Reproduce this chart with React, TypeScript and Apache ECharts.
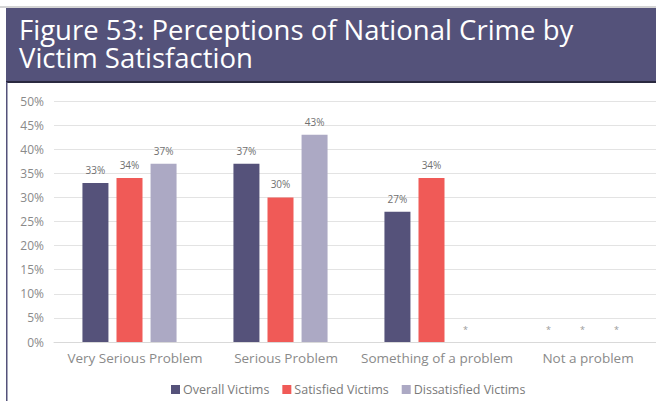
import React, { useEffect, useRef } from "react";
import * as echarts from "echarts";

const titleLines = ["Figure 53: Perceptions of National Crime by", "Victim Satisfaction"];
const categories = ["Very Serious Problem", "Serious Problem", "Something of a problem", "Not a problem"];
const seriesNames = ["Overall Victims", "Satisfied Victims", "Dissatisfied Victims"];
const overallVictims: (number | null)[] = [33, 37, 27, null];
const satisfiedVictims: (number | null)[] = [34, 30, 34, null];
const dissatisfiedVictims: (number | null)[] = [37, 43, null, null];
const seriesColors = ["#55527a", "#f05a57", "#aca9c4"];
const yTicks = { min: 0, max: 50, interval: 5 };

const FONT = "'Open Sans', 'Noto Sans', sans-serif";

function toData(values: (number | null)[]) {
  return values.map((v) =>
    v === null
      ? { value: 0, label: { formatter: "*", color: "#999", fontSize: 9 } }
      : { value: v }
  );
}

export default function App() {
  const ref = useRef<HTMLDivElement>(null);
  useEffect(() => {
    document.body.style.margin = "0";
    const chart = echarts.init(ref.current!, null, { renderer: "svg" });
    const all = [overallVictims, satisfiedVictims, dissatisfiedVictims];
    chart.setOption({
      animation: false,
      backgroundColor: "#ffffff",
      textStyle: { fontFamily: FONT },
      graphic: [
        { type: "rect", shape: { x: 0, y: 6, width: 680, height: 2 }, style: { fill: "#d4d4d4" }, silent: true },
        { type: "rect", shape: { x: 6, y: 8, width: 680, height: 74 }, style: { fill: "#54527a" }, silent: true },
        { type: "rect", shape: { x: 6, y: 81, width: 680, height: 2 }, style: { fill: "#2a2940" }, silent: true },
        { type: "rect", shape: { x: 6, y: 82, width: 1.5, height: 330 }, style: { fill: "#54527a" }, silent: true },
        ...titleLines.map((t, i) => ({
          type: "text",
          x: 19,
          y: 29.5 + i * 28,
          silent: true,
          style: {
            text: t,
            fill: "#ffffff",
            fontSize: 27.5,
            lineHeight: 26,
            fontFamily: FONT,
            verticalAlign: "middle",
            align: "left",
          },
        })),
      ],
      legend: {
        data: seriesNames,
        left: 171,
        top: 383,
        padding: 0,
        icon: "rect",
        itemWidth: 9,
        itemHeight: 9,
        itemGap: 13,
        textStyle: { color: "#7a7a7a", fontSize: 12.5, fontFamily: FONT, padding: [0, 0, 0, -2] },
      },
      grid: { left: 54, right: 2, top: 101, bottom: 59, containLabel: false },
      xAxis: {
        type: "category",
        data: categories,
        axisLine: { lineStyle: { color: "#d9d9d9" } },
        axisTick: { show: false },
        axisLabel: {
          color: "#8a8a8a",
          fontSize: 13.5,
          margin: 9,
          fontFamily: FONT,
          interval: 0,
          padding: [0, 0, 0, 11],
        },
      },
      yAxis: {
        type: "value",
        min: yTicks.min,
        max: yTicks.max,
        interval: yTicks.interval,
        axisLine: { show: false },
        axisTick: { show: false },
        splitLine: { lineStyle: { color: "#e3e3e3", width: 1 } },
        axisLabel: { color: "#8a8a8a", fontSize: 12, margin: 10, fontFamily: FONT, formatter: "{value}%" },
      },
      series: all.map((vals, i) => ({
        name: seriesNames[i],
        type: "bar",
        data: toData(vals),
        barWidth: 26,
        barGap: "31%",
        itemStyle: { color: seriesColors[i] },
        label: {
          show: true,
          position: "top",
          distance: 8,
          color: "#707070",
          fontSize: 10,
          fontFamily: FONT,
          formatter: "{c}%",
        },
      })),
    });
    return () => chart.dispose();
  }, []);
  return (
    <div style={{ position: "fixed", left: 0, top: 0, width: 656, height: 401, overflow: "hidden" }}>
      <div ref={ref} style={{ width: 660, height: 401 }} />
    </div>
  );
}
